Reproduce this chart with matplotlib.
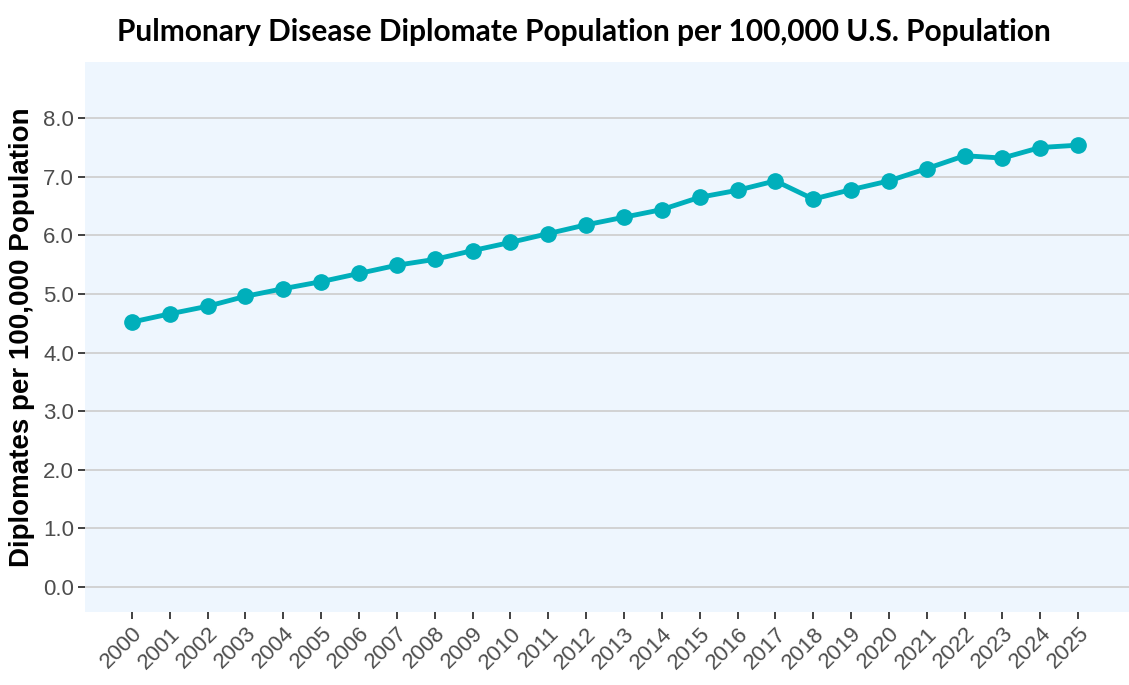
import matplotlib
matplotlib.use("Agg")
import matplotlib.pyplot as plt

# data
years = [str(y) for y in range(2000, 2026)]
rates = [4.52, 4.66, 4.79, 4.96, 5.09, 5.21, 5.35, 5.49, 5.59, 5.74,
         5.88, 6.03, 6.18, 6.31, 6.44, 6.65, 6.77, 6.93, 6.62, 6.78,
         6.93, 7.14, 7.36, 7.32, 7.50, 7.54]
y_ticks = [0, 1, 2, 3, 4, 5, 6, 7, 8]
y_labels = ["%.1f" % v for v in y_ticks]

title = "Pulmonary Disease Diplomate Population per 100,000 U.S. Population"
y_title = "Diplomates per 100,000 Population"

line_color = "#00AFBB"
panel_color = "#EEF6FE"
grid_color = "#D0D0D0"

fig = plt.figure(figsize=(11.29, 6.85), dpi=100)
ax = fig.add_axes([85 / 1129, 1 - 612 / 685, 1045 / 1129, 550 / 685])
ax.set_facecolor(panel_color)

x = list(range(len(years)))
ax.plot(x, rates, color=line_color, linewidth=3.5, marker="o",
        markersize=11, zorder=3)

ax.set_xlim(-1.24, len(years) - 1 + 1.37)
ax.set_ylim(-0.43, 8.96)

ax.set_yticks(y_ticks)
ax.set_yticklabels(y_labels, fontsize=16, color="#4D4D4D",
                   family="Liberation Sans")
ax.set_xticks(x)
ax.set_xticklabels(years, rotation=45, ha="right", va="top",
                   rotation_mode="anchor", fontsize=16, color="#4D4D4D",
                   family="Liberation Sans")

ax.tick_params(axis="both", length=5, width=1.3, color="#333333", pad=3)
ax.grid(axis="y", color=grid_color, linewidth=1.3)
ax.set_axisbelow(True)
for s in ax.spines.values():
    s.set_visible(False)

ax.set_ylabel(y_title, fontsize=20, fontweight="bold",
              family="Liberation Sans", color="black", labelpad=6)

fig.text(0.517, 0.973, title, ha="center", va="top", fontsize=21.5,
         fontweight="bold", family="Lato")

fig.savefig("out.png", dpi=100)
